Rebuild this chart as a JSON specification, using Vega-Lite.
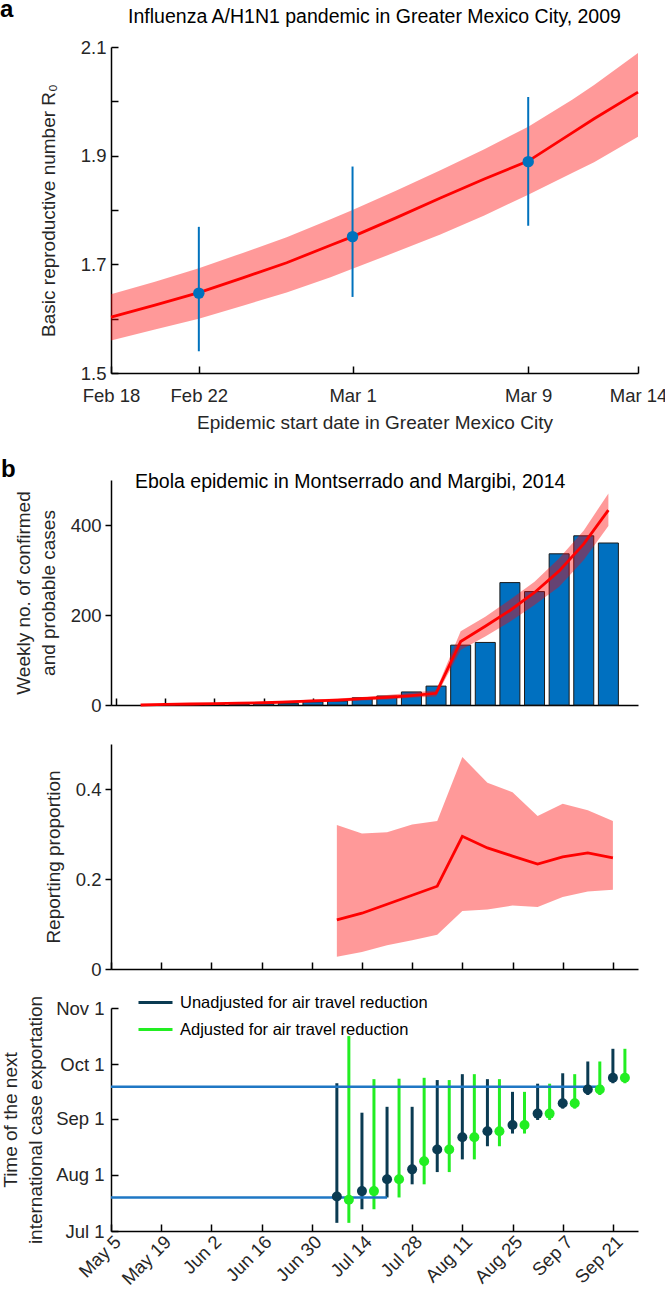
{
  "$schema": "https://vega.github.io/schema/vega-lite/v6.json",
  "autosize": "none",
  "padding": {"left": 111, "top": 0, "right": 554, "bottom": 1293},
  "background": "white",
  "config": {
    "font": "Liberation Sans",
    "view": {"stroke": null},
    "axis": {"grid": false, "domainColor": "#000000", "domainWidth": 1.5, "tickColor": "#000000", "tickWidth": 1.5, "labelFontSize": 18.5, "labelColor": "#262626", "titleFontSize": 19, "titleFontWeight": "normal", "titleColor": "#262626", "labelFlush": false, "labelOverlap": false, "labelFont": "Liberation Sans", "titleFont": "Liberation Sans"},
    "title": {"fontSize": 19.5, "fontWeight": "normal", "color": "#000000", "font": "Liberation Sans"}
  },
  "datasets": {
    "r0curve": [
      {"date": "2009-02-18T00:00", "r0": 1.603, "lo": 1.560, "hi": 1.645},
      {"date": "2009-02-20T00:00", "r0": 1.625, "lo": 1.580, "hi": 1.668},
      {"date": "2009-02-22T00:00", "r0": 1.648, "lo": 1.600, "hi": 1.693},
      {"date": "2009-02-24T00:00", "r0": 1.675, "lo": 1.624, "hi": 1.721},
      {"date": "2009-02-26T00:00", "r0": 1.703, "lo": 1.648, "hi": 1.750},
      {"date": "2009-02-28T00:00", "r0": 1.735, "lo": 1.676, "hi": 1.783},
      {"date": "2009-03-01T00:00", "r0": 1.751, "lo": 1.692, "hi": 1.800},
      {"date": "2009-03-03T00:00", "r0": 1.786, "lo": 1.723, "hi": 1.836},
      {"date": "2009-03-05T00:00", "r0": 1.822, "lo": 1.755, "hi": 1.873},
      {"date": "2009-03-07T00:00", "r0": 1.857, "lo": 1.790, "hi": 1.912},
      {"date": "2009-03-09T00:00", "r0": 1.890, "lo": 1.828, "hi": 1.953},
      {"date": "2009-03-11T00:00", "r0": 1.942, "lo": 1.868, "hi": 2.003},
      {"date": "2009-03-12T00:00", "r0": 1.968, "lo": 1.888, "hi": 2.030},
      {"date": "2009-03-14T00:00", "r0": 2.017, "lo": 1.935, "hi": 2.089}
    ],
    "r0points": [
      {"date": "2009-02-22T00:00", "est": 1.647, "lo": 1.540, "hi": 1.769},
      {"date": "2009-03-01T00:00", "est": 1.751, "lo": 1.640, "hi": 1.880},
      {"date": "2009-03-09T00:00", "est": 1.889, "lo": 1.771, "hi": 2.008}
    ],
    "cases": [
      {"week": 2, "cases": 1}, {"week": 3, "cases": 1}, {"week": 4, "cases": 1},
      {"week": 5, "cases": 2}, {"week": 6, "cases": 3}, {"week": 7, "cases": 4},
      {"week": 8, "cases": 7}, {"week": 9, "cases": 9}, {"week": 10, "cases": 16},
      {"week": 11, "cases": 20}, {"week": 12, "cases": 29}, {"week": 13, "cases": 42},
      {"week": 14, "cases": 133}, {"week": 15, "cases": 139}, {"week": 16, "cases": 272},
      {"week": 17, "cases": 252}, {"week": 18, "cases": 336}, {"week": 19, "cases": 376},
      {"week": 20, "cases": 360}
    ],
    "fit": [
      {"week": 1, "fit": 0, "lo": 0, "hi": 1},
      {"week": 2, "fit": 1.5, "lo": 0.5, "hi": 2.5},
      {"week": 3, "fit": 2.2, "lo": 1, "hi": 3.5},
      {"week": 4, "fit": 3, "lo": 1.5, "hi": 4.5},
      {"week": 5, "fit": 4, "lo": 2.2, "hi": 5.8},
      {"week": 6, "fit": 5, "lo": 3, "hi": 7},
      {"week": 7, "fit": 7, "lo": 4.5, "hi": 9.5},
      {"week": 8, "fit": 9, "lo": 6, "hi": 12},
      {"week": 9, "fit": 11, "lo": 7.5, "hi": 14.5},
      {"week": 10, "fit": 14, "lo": 10, "hi": 18},
      {"week": 11, "fit": 17, "lo": 12.5, "hi": 22},
      {"week": 12, "fit": 21, "lo": 16, "hi": 27},
      {"week": 13, "fit": 26, "lo": 19, "hi": 33},
      {"week": 14, "fit": 141, "lo": 122, "hi": 164},
      {"week": 15, "fit": 175, "lo": 152, "hi": 196},
      {"week": 16, "fit": 210, "lo": 185, "hi": 234},
      {"week": 17, "fit": 250, "lo": 222, "hi": 274},
      {"week": 18, "fit": 298, "lo": 263, "hi": 326},
      {"week": 19, "fit": 358, "lo": 322, "hi": 388},
      {"week": 20, "fit": 433, "lo": 398, "hi": 470}
    ],
    "reporting": [
      {"week": 9, "prop": 0.109, "lo": 0.027, "hi": 0.320},
      {"week": 10, "prop": 0.124, "lo": 0.038, "hi": 0.301},
      {"week": 11, "prop": 0.144, "lo": 0.053, "hi": 0.304},
      {"week": 12, "prop": 0.164, "lo": 0.064, "hi": 0.321},
      {"week": 13, "prop": 0.184, "lo": 0.076, "hi": 0.329},
      {"week": 14, "prop": 0.295, "lo": 0.129, "hi": 0.471},
      {"week": 15, "prop": 0.269, "lo": 0.132, "hi": 0.414},
      {"week": 16, "prop": 0.251, "lo": 0.141, "hi": 0.393},
      {"week": 17, "prop": 0.233, "lo": 0.138, "hi": 0.340},
      {"week": 18, "prop": 0.249, "lo": 0.160, "hi": 0.367},
      {"week": 19, "prop": 0.258, "lo": 0.172, "hi": 0.353},
      {"week": 20, "prop": 0.247, "lo": 0.176, "hi": 0.329}
    ],
    "exports": [
      {"week": 9, "series": "Unadjusted for air travel reduction", "median": "2014-07-20T00:00", "lower": "2014-07-05T12:00", "upper": "2014-09-20T12:00"},
      {"week": 10, "series": "Unadjusted for air travel reduction", "median": "2014-07-23T00:00", "lower": "2014-07-13T00:00", "upper": "2014-09-04T06:00"},
      {"week": 11, "series": "Unadjusted for air travel reduction", "median": "2014-07-29T12:00", "lower": "2014-07-19T12:00", "upper": "2014-09-07T12:00"},
      {"week": 12, "series": "Unadjusted for air travel reduction", "median": "2014-08-04T00:00", "lower": "2014-07-26T18:00", "upper": "2014-09-07T12:00"},
      {"week": 13, "series": "Unadjusted for air travel reduction", "median": "2014-08-15T00:00", "lower": "2014-08-02T12:00", "upper": "2014-09-22T06:00"},
      {"week": 14, "series": "Unadjusted for air travel reduction", "median": "2014-08-21T18:00", "lower": "2014-08-09T12:00", "upper": "2014-09-25T12:00"},
      {"week": 15, "series": "Unadjusted for air travel reduction", "median": "2014-08-25T00:00", "lower": "2014-08-16T18:00", "upper": "2014-09-22T18:00"},
      {"week": 16, "series": "Unadjusted for air travel reduction", "median": "2014-08-28T12:00", "lower": "2014-08-23T18:00", "upper": "2014-09-15T18:00"},
      {"week": 17, "series": "Unadjusted for air travel reduction", "median": "2014-09-03T18:00", "lower": "2014-08-31T06:00", "upper": "2014-09-20T06:00"},
      {"week": 18, "series": "Unadjusted for air travel reduction", "median": "2014-09-09T12:00", "lower": "2014-09-06T12:00", "upper": "2014-09-26T00:00"},
      {"week": 19, "series": "Unadjusted for air travel reduction", "median": "2014-09-17T00:00", "lower": "2014-09-14T00:00", "upper": "2014-10-02T12:00"},
      {"week": 20, "series": "Unadjusted for air travel reduction", "median": "2014-09-23T12:00", "lower": "2014-09-20T12:00", "upper": "2014-10-09T12:00"},
      {"week": 9, "series": "Adjusted for air travel reduction", "median": "2014-07-18T06:00", "lower": "2014-07-05T12:00", "upper": "2014-10-16T12:00"},
      {"week": 10, "series": "Adjusted for air travel reduction", "median": "2014-07-23T00:00", "lower": "2014-07-13T00:00", "upper": "2014-09-22T18:00"},
      {"week": 11, "series": "Adjusted for air travel reduction", "median": "2014-07-29T12:00", "lower": "2014-07-19T12:00", "upper": "2014-09-23T00:00"},
      {"week": 12, "series": "Adjusted for air travel reduction", "median": "2014-08-08T12:00", "lower": "2014-07-26T18:00", "upper": "2014-09-23T12:00"},
      {"week": 13, "series": "Adjusted for air travel reduction", "median": "2014-08-15T00:00", "lower": "2014-08-02T12:00", "upper": "2014-09-22T06:00"},
      {"week": 14, "series": "Adjusted for air travel reduction", "median": "2014-08-21T18:00", "lower": "2014-08-09T12:00", "upper": "2014-09-25T12:00"},
      {"week": 15, "series": "Adjusted for air travel reduction", "median": "2014-08-25T00:00", "lower": "2014-08-16T18:00", "upper": "2014-09-22T18:00"},
      {"week": 16, "series": "Adjusted for air travel reduction", "median": "2014-08-28T12:00", "lower": "2014-08-23T18:00", "upper": "2014-09-15T18:00"},
      {"week": 17, "series": "Adjusted for air travel reduction", "median": "2014-09-03T18:00", "lower": "2014-08-31T06:00", "upper": "2014-09-20T06:00"},
      {"week": 18, "series": "Adjusted for air travel reduction", "median": "2014-09-09T12:00", "lower": "2014-09-06T12:00", "upper": "2014-09-25T12:00"},
      {"week": 19, "series": "Adjusted for air travel reduction", "median": "2014-09-17T00:00", "lower": "2014-09-14T00:00", "upper": "2014-10-02T12:00"},
      {"week": 20, "series": "Adjusted for air travel reduction", "median": "2014-09-23T12:00", "lower": "2014-09-20T12:00", "upper": "2014-10-09T12:00"}
    ],
    "thresholds": [
      {"from": 0, "to": 11, "date": "2014-07-19T12:00"},
      {"from": 0, "to": 19.6, "date": "2014-09-18T12:00"}
    ]
  },
  "spacing": 39,
  "bounds": "flush",
  "vconcat": [
    {
      "width": 527, "height": 8,
      "data": {"values": []},
      "mark": {"type": "point", "opacity": 0},
      "title": {"text": "a", "orient": "bottom", "anchor": "start", "frame": "group", "dx": -111, "offset": -10, "fontSize": 24, "fontWeight": "bold", "color": "#000000"}
    },
    {
      "width": 527, "height": 326,
      "title": {"text": "Influenza A/H1N1 pandemic in Greater Mexico City, 2009", "anchor": "middle", "offset": 11},
      "layer": [
        {
          "data": {"name": "r0curve"},
          "mark": {"type": "area", "color": "#ff0000", "opacity": 0.4},
          "encoding": {
            "x": {"field": "date", "type": "temporal",
                  "scale": {"domain": [{"year": 2009, "month": 2, "date": 18}, {"year": 2009, "month": 3, "date": 14}]},
                  "axis": {"values": [{"year": 2009, "month": 2, "date": 18}, {"year": 2009, "month": 2, "date": 22}, {"year": 2009, "month": 3, "date": 1}, {"year": 2009, "month": 3, "date": 9}, {"year": 2009, "month": 3, "date": 14}],
                           "format": "%b %-d", "tickSize": -7, "labelPadding": 20, "title": "Epidemic start date in Greater Mexico City", "titlePadding": 9}},
            "y": {"field": "lo", "type": "quantitative",
                  "scale": {"domain": [1.5, 2.1], "nice": false, "zero": false},
                  "axis": {"values": [1.5, 1.6, 1.7, 1.8, 1.9, 2.0, 2.1], "labelExpr": "round(datum.value*10) % 2 == 1 ? format(datum.value, '.1f') : ''",
                           "tickSize": -7, "labelPadding": 12, "title": "Basic reproductive number R₀", "titlePadding": 22}},
            "y2": {"field": "hi"}
          }
        },
        {
          "data": {"name": "r0curve"},
          "mark": {"type": "line", "color": "#ff0000", "strokeWidth": 2.8},
          "encoding": {
            "x": {"field": "date", "type": "temporal"},
            "y": {"field": "r0", "type": "quantitative"}
          }
        },
        {
          "data": {"name": "r0points"},
          "mark": {"type": "rule", "color": "#0072bd", "strokeWidth": 2},
          "encoding": {
            "x": {"field": "date", "type": "temporal"},
            "y": {"field": "lo", "type": "quantitative"},
            "y2": {"field": "hi"}
          }
        },
        {
          "data": {"name": "r0points"},
          "mark": {"type": "point", "filled": true, "color": "#0072bd", "size": 130, "opacity": 1},
          "encoding": {
            "x": {"field": "date", "type": "temporal"},
            "y": {"field": "est", "type": "quantitative"}
          }
        }
      ]
    },
    {
      "width": 527, "height": 29,
      "data": {"values": []},
      "mark": {"type": "point", "opacity": 0},
      "title": {"text": "b", "orient": "bottom", "anchor": "start", "frame": "group", "dx": -110, "offset": 17, "fontSize": 24, "fontWeight": "bold", "color": "#000000"}
    },
    {
      "width": 527, "height": 225,
      "title": {"text": "Ebola epidemic in Montserrado and Margibi, 2014", "anchor": "start", "frame": "group", "dx": 24, "offset": -12},
      "layer": [
        {
          "data": {"name": "cases"},
          "mark": {"type": "bar", "color": "#0070c0", "stroke": "#1a1a1a", "strokeWidth": 1, "size": 20},
          "encoding": {
            "x": {"field": "week", "type": "quantitative", "scale": {"domain": [0, 21], "nice": false, "zero": false},
                  "axis": {"values": [0, 2, 4, 6, 8, 10, 12, 14, 16, 18, 20], "labels": false, "tickSize": -7, "title": null}},
            "y": {"field": "cases", "type": "quantitative", "scale": {"domain": [0, 500], "nice": false},
                  "axis": {"values": [0, 200, 400], "tickSize": 6, "labelPadding": 4, "title": ["Weekly no. of confirmed", "and probable cases"], "titlePadding": 12, "titleLineHeight": 25}}
          }
        },
        {
          "data": {"name": "fit"},
          "mark": {"type": "area", "color": "#ff0000", "opacity": 0.4},
          "encoding": {
            "x": {"field": "week", "type": "quantitative"},
            "y": {"field": "lo", "type": "quantitative"},
            "y2": {"field": "hi"}
          }
        },
        {
          "data": {"name": "fit"},
          "mark": {"type": "line", "color": "#ff0000", "strokeWidth": 2.8},
          "encoding": {
            "x": {"field": "week", "type": "quantitative"},
            "y": {"field": "fit", "type": "quantitative"}
          }
        }
      ]
    },
    {
      "width": 527, "height": 225,
      "layer": [
        {
          "data": {"name": "reporting"},
          "mark": {"type": "area", "color": "#ff0000", "opacity": 0.4},
          "encoding": {
            "x": {"field": "week", "type": "quantitative", "scale": {"domain": [0, 21], "nice": false, "zero": false},
                  "axis": {"values": [0, 2, 4, 6, 8, 10, 12, 14, 16, 18, 20], "labels": false, "tickSize": -7, "title": null}},
            "y": {"field": "lo", "type": "quantitative", "scale": {"domain": [0, 0.5], "nice": false},
                  "axis": {"values": [0, 0.2, 0.4], "labelExpr": "datum.value == 0 ? '0' : format(datum.value, '.1f')", "tickSize": 6, "labelPadding": 4, "title": "Reporting proportion", "titlePadding": 12}},
            "y2": {"field": "hi"}
          }
        },
        {
          "data": {"name": "reporting"},
          "mark": {"type": "line", "color": "#ff0000", "strokeWidth": 2.8},
          "encoding": {
            "x": {"field": "week", "type": "quantitative"},
            "y": {"field": "prop", "type": "quantitative"}
          }
        }
      ]
    },
    {
      "width": 527, "height": 223,
      "layer": [
        {
          "data": {"name": "exports"},
          "transform": [{"filter": "datum.series == 'Unadjusted for air travel reduction'"}],
          "mark": {"type": "rule", "strokeWidth": 3},
          "encoding": {
            "x": {"field": "week", "type": "quantitative", "scale": {"domain": [0, 21], "nice": false, "zero": false},
                  "axis": {"values": [0, 2, 4, 6, 8, 10, 12, 14, 16, 18, 20], "tickSize": -7, "labelAngle": -45, "labelPadding": 8, "title": null,
                           "labelExpr": "['May 5','May 19','Jun 2','Jun 16','Jun 30','Jul 14','Jul 28','Aug 11','Aug 25','Sep 7','Sep 21'][round(datum.value/2)]"}},
            "y": {"field": "lower", "type": "temporal",
                  "scale": {"domain": [{"year": 2014, "month": 7, "date": 1}, {"year": 2014, "month": 11, "date": 1}]},
                  "axis": {"values": [{"year": 2014, "month": 7, "date": 1}, {"year": 2014, "month": 8, "date": 1}, {"year": 2014, "month": 9, "date": 1}, {"year": 2014, "month": 10, "date": 1}, {"year": 2014, "month": 11, "date": 1}],
                           "format": "%b %-d", "tickSize": -7, "labelPadding": 14, "title": ["Time of the next", "international case exportation"], "titlePadding": 10, "titleLineHeight": 25}},
            "y2": {"field": "upper"},
            "color": {"field": "series", "type": "nominal",
                      "scale": {"domain": ["Unadjusted for air travel reduction", "Adjusted for air travel reduction"], "range": ["#0b3b52", "#22ee22"]},
                      "legend": {"orient": "none", "legendX": 26, "legendY": 984, "title": null, "symbolType": "stroke", "symbolSize": 1156, "symbolStrokeWidth": 3, "labelFontSize": 16.5, "labelColor": "#000000", "labelOffset": 6, "labelLimit": 500, "rowPadding": -9, "padding": 0, "direction": "vertical"}}
          }
        },
        {
          "data": {"name": "exports"},
          "transform": [{"filter": "datum.series == 'Adjusted for air travel reduction'"}],
          "mark": {"type": "rule", "strokeWidth": 3, "xOffset": 12},
          "encoding": {
            "x": {"field": "week", "type": "quantitative"},
            "y": {"field": "lower", "type": "temporal"},
            "y2": {"field": "upper"},
            "color": {"field": "series", "type": "nominal"}
          }
        },
        {
          "data": {"name": "thresholds"},
          "mark": {"type": "rule", "color": "#1f77c4", "strokeWidth": 2.5},
          "encoding": {
            "x": {"field": "from", "type": "quantitative"},
            "x2": {"field": "to"},
            "y": {"field": "date", "type": "temporal"}
          }
        },
        {
          "data": {"name": "exports"},
          "transform": [{"filter": "datum.series == 'Unadjusted for air travel reduction'"}],
          "mark": {"type": "point", "filled": true, "size": 100, "opacity": 1},
          "encoding": {
            "x": {"field": "week", "type": "quantitative"},
            "y": {"field": "median", "type": "temporal"},
            "color": {"field": "series", "type": "nominal"}
          }
        },
        {
          "data": {"name": "exports"},
          "transform": [{"filter": "datum.series == 'Adjusted for air travel reduction'"}],
          "mark": {"type": "point", "filled": true, "size": 100, "opacity": 1, "xOffset": 12},
          "encoding": {
            "x": {"field": "week", "type": "quantitative"},
            "y": {"field": "median", "type": "temporal"},
            "color": {"field": "series", "type": "nominal"}
          }
        }
      ]
    }
  ]
}
